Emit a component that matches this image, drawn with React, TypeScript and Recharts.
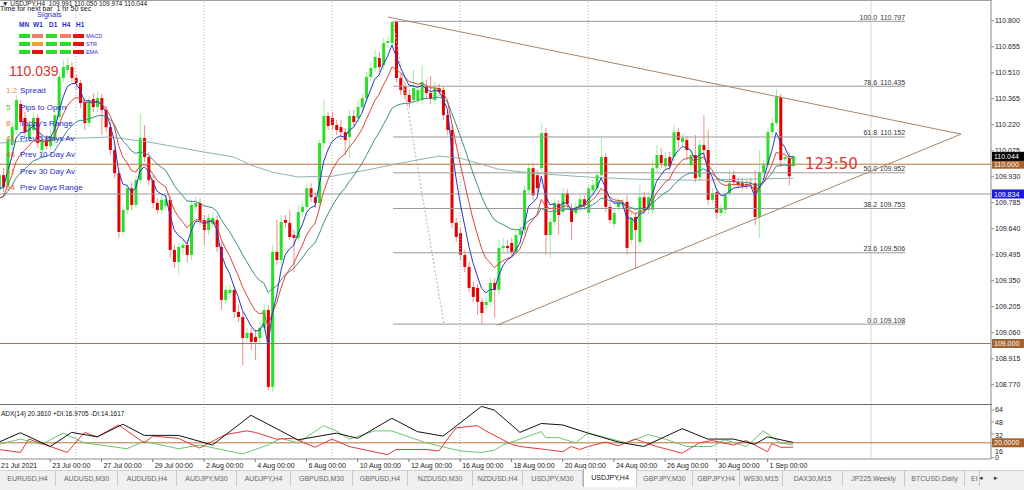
import React from "react"
import { Bar, ComposedChart, Line, ReferenceLine, XAxis, YAxis } from "recharts"

const SANS = "'Liberation Sans', Arial, sans-serif"
const NARROW = "'Liberation Sans Narrow', 'Liberation Sans', Arial, sans-serif"

// USDJPY H4 from 21 Jul 2021 00:00, one row per bar: [open, high, low, close]
const candles: number[][] = [
  [109.855, 109.967, 109.827, 109.939], [109.939, 109.978, 109.844, 109.872], [109.883, 110.157, 109.866, 110.135],
  [110.107, 110.235, 110.079, 110.207], [110.191, 110.386, 110.168, 110.358], [110.336, 110.358, 110.213, 110.235],
  [110.258, 110.291, 110.157, 110.179], [110.146, 110.247, 110.124, 110.219], [110.191, 110.291, 110.168, 110.258],
  [110.258, 110.28, 110.09, 110.118], [110.079, 110.157, 110.051, 110.135], [110.135, 110.163, 110.079, 110.101],
  [110.101, 110.191, 110.079, 110.157], [110.135, 110.302, 110.112, 110.274], [110.263, 110.514, 110.247, 110.487],
  [110.481, 110.581, 110.459, 110.542], [110.526, 110.592, 110.503, 110.553], [110.542, 110.57, 110.459, 110.481],
  [110.481, 110.503, 110.414, 110.453], [110.453, 110.47, 110.313, 110.341], [110.347, 110.369, 110.191, 110.23],
  [110.23, 110.381, 110.207, 110.358], [110.364, 110.397, 110.291, 110.319], [110.319, 110.403, 110.291, 110.369],
  [110.369, 110.392, 110.163, 110.302], [110.302, 110.325, 110.179, 110.207], [110.207, 110.235, 110.051, 110.079],
  [110.079, 110.101, 109.922, 109.95], [109.95, 109.978, 109.589, 109.622], [109.622, 109.773, 109.6, 109.745],
  [109.745, 109.889, 109.723, 109.866], [109.866, 109.9, 109.745, 109.773], [109.773, 109.933, 109.756, 109.911],
  [109.911, 110.286, 109.889, 110.146], [110.146, 110.219, 110.012, 110.04], [110.04, 110.068, 109.883, 109.911],
  [109.911, 109.939, 109.756, 109.784], [109.784, 109.81, 109.723, 109.745], [109.745, 109.827, 109.723, 109.801],
  [109.767, 109.833, 109.745, 109.805], [109.801, 109.822, 109.477, 109.522], [109.522, 109.55, 109.421, 109.455],
  [109.455, 109.561, 109.382, 109.539], [109.533, 109.578, 109.494, 109.55], [109.55, 109.578, 109.455, 109.494],
  [109.494, 109.801, 109.466, 109.773], [109.762, 109.822, 109.734, 109.784], [109.784, 109.81, 109.661, 109.689],
  [109.689, 109.717, 109.55, 109.633], [109.633, 109.723, 109.605, 109.7], [109.667, 109.734, 109.645, 109.7],
  [109.689, 109.711, 109.511, 109.539], [109.539, 109.566, 109.187, 109.243], [109.243, 109.321, 109.221, 109.299],
  [109.282, 109.327, 109.254, 109.299], [109.299, 109.321, 109.143, 109.176], [109.176, 109.215, 109.12, 109.148],
  [109.148, 109.176, 108.88, 109.031], [109.031, 109.087, 109.009, 109.059], [109.059, 109.087, 108.964, 109.009],
  [109.037, 109.076, 108.908, 109.009], [109.031, 109.12, 108.992, 109.087], [109.087, 109.226, 109.064, 109.187],
  [109.187, 109.215, 108.741, 108.758], [108.758, 109.55, 108.73, 109.511], [109.511, 109.689, 109.438, 109.466],
  [109.466, 109.717, 109.438, 109.678], [109.689, 109.717, 109.645, 109.673], [109.673, 109.745, 109.578, 109.594],
  [109.605, 109.633, 109.399, 109.589], [109.589, 109.773, 109.566, 109.734], [109.734, 109.79, 109.711, 109.762],
  [109.762, 109.894, 109.734, 109.866], [109.866, 109.894, 109.79, 109.816], [109.816, 109.844, 109.756, 109.784],
  [109.784, 110.135, 109.762, 110.118], [110.118, 110.358, 110.09, 110.269], [110.269, 110.291, 110.191, 110.213],
  [110.258, 110.291, 110.191, 110.219], [110.219, 110.247, 110.163, 110.191], [110.207, 110.247, 110.135, 110.179],
  [110.179, 110.202, 110.051, 110.135], [110.152, 110.302, 110.034, 110.269], [110.269, 110.302, 110.213, 110.235],
  [110.258, 110.358, 110.235, 110.319], [110.319, 110.392, 110.291, 110.369], [110.369, 110.514, 110.347, 110.487],
  [110.487, 110.57, 110.459, 110.537], [110.537, 110.637, 110.514, 110.598], [110.592, 110.626, 110.514, 110.542],
  [110.553, 110.704, 110.526, 110.676], [110.676, 110.715, 110.648, 110.687], [110.676, 110.797, 110.654, 110.793],
  [110.793, 110.797, 110.459, 110.481], [110.481, 110.503, 110.386, 110.414], [110.431, 110.459, 110.358, 110.386],
  [110.386, 110.414, 110.313, 110.347], [110.358, 110.526, 110.336, 110.425], [110.358, 110.447, 110.336, 110.414],
  [110.358, 110.553, 110.336, 110.459], [110.431, 110.47, 110.369, 110.397], [110.397, 110.492, 110.336, 110.364],
  [110.358, 110.459, 110.336, 110.425], [110.425, 110.447, 110.381, 110.403], [110.414, 110.436, 110.247, 110.274],
  [110.274, 110.302, 110.163, 110.191], [110.191, 110.219, 109.645, 109.673], [109.673, 109.7, 109.566, 109.594],
  [109.617, 109.645, 109.466, 109.494], [109.494, 109.522, 109.399, 109.427], [109.427, 109.455, 109.287, 109.31],
  [109.315, 109.343, 109.232, 109.26], [109.31, 109.332, 109.159, 109.232], [109.232, 109.254, 109.108, 109.17],
  [109.215, 109.265, 109.187, 109.232], [109.232, 109.365, 109.21, 109.338], [109.338, 109.365, 109.143, 109.299],
  [109.299, 109.578, 109.276, 109.533], [109.533, 109.589, 109.511, 109.544], [109.544, 109.578, 109.511, 109.533],
  [109.561, 109.589, 109.489, 109.511], [109.511, 109.633, 109.489, 109.605], [109.605, 109.656, 109.578, 109.633],
  [109.633, 109.883, 109.611, 109.855], [109.855, 110.006, 109.833, 109.978], [109.978, 110.006, 109.801, 109.827],
  [109.939, 109.967, 109.844, 109.866], [109.978, 110.23, 109.956, 110.174], [110.174, 110.202, 109.494, 109.605],
  [109.605, 109.7, 109.477, 109.678], [109.678, 109.81, 109.656, 109.784], [109.779, 109.801, 109.605, 109.717],
  [109.734, 109.866, 109.711, 109.838], [109.838, 109.861, 109.756, 109.779], [109.756, 109.779, 109.578, 109.678],
  [109.728, 109.79, 109.706, 109.762], [109.756, 109.827, 109.734, 109.805], [109.805, 109.827, 109.745, 109.773],
  [109.728, 109.889, 109.7, 109.866], [109.855, 109.911, 109.833, 109.883], [109.866, 109.967, 109.844, 109.939],
  [109.939, 110.146, 109.911, 110.04], [110.04, 110.062, 109.734, 109.762], [109.762, 109.79, 109.667, 109.689],
  [109.667, 109.756, 109.645, 109.728], [109.762, 109.81, 109.739, 109.784], [109.773, 109.81, 109.756, 109.784],
  [109.79, 109.827, 109.494, 109.533], [109.578, 109.734, 109.555, 109.7], [109.706, 109.734, 109.421, 109.633],
  [109.566, 109.883, 109.544, 109.816], [109.816, 109.844, 109.723, 109.745], [109.745, 109.844, 109.723, 109.816],
  [109.745, 110.023, 109.723, 109.978], [109.978, 110.107, 109.956, 110.051], [110.051, 110.09, 109.978, 110.006],
  [109.989, 110.068, 109.967, 110.034], [110.04, 110.068, 109.967, 109.989], [110.04, 110.219, 110.017, 110.179],
  [110.179, 110.202, 110.09, 110.135], [110.124, 110.168, 110.101, 110.146], [110.135, 110.157, 110.023, 110.079],
  [109.995, 110.079, 109.967, 110.051], [110.051, 110.163, 109.9, 109.922], [109.929, 110.135, 109.905, 110.107],
  [110.107, 110.274, 110.051, 110.079], [110.079, 110.191, 109.773, 109.801], [109.801, 109.866, 109.779, 109.838],
  [109.844, 109.866, 109.7, 109.728], [109.728, 109.779, 109.711, 109.756], [109.745, 109.855, 109.723, 109.827],
  [109.838, 109.967, 109.822, 109.894], [109.939, 109.967, 109.877, 109.9], [109.9, 109.922, 109.861, 109.883],
  [109.894, 109.922, 109.855, 109.877], [109.889, 109.911, 109.861, 109.883], [109.894, 109.922, 109.866, 109.889],
  [109.894, 109.967, 109.661, 109.706], [109.706, 110.079, 109.589, 109.956], [109.956, 110.023, 109.933, 109.995],
  [109.995, 110.202, 109.978, 110.179], [110.179, 110.258, 110.157, 110.23], [110.23, 110.42, 110.213, 110.375],
  [110.375, 110.392, 109.989, 110.023], [110.028, 110.068, 110.012, 110.04], [110.034, 110.068, 109.883, 109.933],
  [109.991, 110.05, 109.974, 110.044],
]

const priceTicks = [110.8, 110.655, 110.51, 110.365, 110.22, 110.075, 109.93, 109.785, 109.64, 109.495, 109.35, 109.205, 109.06, 108.915, 108.77]

// moving average starting values at the first visible bar
const emaFastSeed = 109.83
const emaMidSeed = 109.78
const emaSlowSeed = 109.8

// long moving average
const longMaBars = [0, 13, 26, 35, 48, 55, 59, 64, 70, 78, 86, 94, 103, 108, 117, 125, 138, 150, 162, 174, 186]
const longMaValues = [110.118, 110.14, 110.152, 110.124, 110.068, 110.04, 109.995, 109.956, 109.929, 109.933, 109.967, 110.006, 110.045, 110.034, 109.972, 109.95, 109.928, 109.916, 109.911, 109.916, 109.922]

const fibLevels = ["100.0", "78.6", "61.8", "50.0", "38.2", "23.6", "0.0"]
const fibPrices = [110.797, 110.435, 110.152, 109.952, 109.753, 109.506, 109.108]
const fibStartBar = 92.3
const fibEndBar = 212.2

const triangleApex = { x: 225.3, y: 110.168 }
const triangleHigh = { x: 91.1, y: 110.821 }
const triangleLow = { x: 116.6, y: 109.102 }
const fibAnchorTop = { x: 92.3, y: 110.797 }
const fibAnchorBottom = { x: 104.2, y: 109.108 }

const weekBars = [18, 48, 78, 108, 138, 168]
const markerBar = 204.2

const dateBars = [0, 12, 24, 36, 48, 60, 72, 84, 96, 108, 120, 132, 144, 156, 168, 180]
const dateLabels = ["21 Jul 2021", "23 Jul 00:00", "27 Jul 00:00", "29 Jul 00:00", "2 Aug 00:00", "4 Aug 00:00", "6 Aug 00:00", "10 Aug 00:00", "12 Aug 00:00", "16 Aug 00:00", "18 Aug 00:00", "20 Aug 00:00", "24 Aug 00:00", "26 Aug 00:00", "30 Aug 00:00", "1 Sep 00:00"]

// ADX(14) panel
const adxTicks = [0, 16, 32, 48, 64]
const adxBars = [0, 5, 12, 17, 23, 29, 34, 42, 50, 59, 70, 79, 84, 92, 98, 104, 113, 116, 122, 127, 132, 138, 145, 151, 160, 166, 172, 177, 180, 186]
const adxValues = [21, 33.5, 15, 34, 28, 45, 30, 30, 17, 57, 24, 33, 26, 53, 35, 29, 69, 64, 34, 46, 44, 33, 21, 15, 39, 25, 25, 18, 28, 20.4]
const plusDiBars = [0, 5, 10, 15, 20, 30, 34, 42, 47, 57, 63, 66, 70, 76, 79, 82, 88, 92, 100, 108, 113, 116, 118, 123, 127, 128, 131, 135, 138, 142, 147, 152, 156, 161, 167, 170, 175, 179, 183, 186]
const plusDiValues = [18, 25, 18, 33, 20, 12, 22, 12, 17, 5, 17, 26, 20, 43, 36, 25, 36, 36, 20, 9, 7, 10, 17, 27, 35, 27, 27, 20, 33, 27, 20, 31, 25, 15, 15, 24, 15, 36, 20, 17]
const minusDiBars = [0, 5, 7, 16, 20, 23, 28, 34, 36, 42, 47, 53, 58, 60, 65, 69, 74, 78, 82, 91, 93, 100, 103, 107, 112, 114, 120, 122, 128, 132, 134, 136, 138, 142, 145, 149, 154, 160, 164, 167, 172, 175, 180, 181, 183, 186]
const minusDiValues = [11, 7, 25, 7, 34, 28, 44, 20, 29, 26, 13, 31, 36, 34, 25, 26, 14, 25, 15, 4, 11, 11, 9, 40, 43, 36, 18, 15, 11, 8, 15, 11, 15, 21, 16, 25, 15, 6, 20, 23, 17, 23, 8, 19, 14, 14]

const infoNumbers = ["1.2", "5", "8", "41", "46", "51", "54"]
const infoColors = ["#e8922e", "#3ccc3c", "#ee6a40", "#ee6a40", "#e85a34", "#e88a2e", "#e86a34"]
const infoLabels = ["Spread", "Pips to Open", "Today's Range", "Prev 5 Days Av", "Prev 10 Day Av", "Prev 30 Day Av", "Prev Days Range"]

const signalFrames = ["MN", "W1", "D1", "H4", "H1"]
const signalRows = ["MACD", "STR", "EMA"]
const signalColors = [
  ["#2bdc2b", "#f0806a", "#2bdc2b", "#f0806a", "#e41414"],
  ["#2bdc2b", "#f0a028", "#2bdc2b", "#2bdc2b", "#e41414"],
  ["#2bdc2b", "#e41414", "#2bdc2b", "#2bdc2b", "#e41414"],
]

const tabNames = ["EURUSD,H4", "AUDUSD,M30", "AUDUSD,H4", "AUDJPY,M30", "AUDJPY,H4", "GBPUSD,M30", "GBPUSD,H4", "NZDUSD,M30", "NZDUSD,H4", "USDJPY,M30", "USDJPY,H4", "GBPJPY,M30", "GBPJPY,H4", "WS30,M15", "DAX30,M15", "JP225,Weekly", "BTCUSD,Daily", "EI"]
const tabEdges = [0, 56, 118, 177, 237, 291, 353, 408, 473, 523, 583, 637, 693, 740, 783, 843, 905, 965, 980]
const activeTab = "USDJPY,H4"

const X_DOMAIN: [number, number] = [0.234, 232.32]
const Y_DOMAIN: [number, number] = [108.657, 110.916]

function ema(values: number[], period: number, seed: number) {
  const k = 2 / (period + 1)
  let prev = seed
  return values.map((v) => {
    prev = prev + k * (v - prev)
    return prev
  })
}

const closes = candles.map((c) => c[3])
const fast = ema(closes, 5, emaFastSeed)
const mid = ema(closes, 10, emaMidSeed)
const slow = ema(closes, 21, emaSlowSeed)

const rows = candles.map(([o, h, l, c], i) => ({
  i,
  o,
  h,
  l,
  c,
  range: [l, h],
  fast: fast[i],
  mid: mid[i],
  slow: slow[i],
}))

const longMa = longMaBars.map((b, k) => ({ i: b, v: longMaValues[k] }))
const adxRows = adxBars.map((b, k) => ({ i: b, v: adxValues[k] }))
const plusRows = plusDiBars.map((b, k) => ({ i: b, v: plusDiValues[k] }))
const minusRows = minusDiBars.map((b, k) => ({ i: b, v: minusDiValues[k] }))

function Candle(props: any) {
  const { x, y, width, height, payload } = props
  if (x == null || payload == null) return null
  const top = Math.min(y, y + height)
  const bot = Math.max(y, y + height)
  const { o, h, l, c } = payload
  const span = h - l || 1e-6
  const py = (p: number) => top + ((h - p) / span) * (bot - top)
  const up = c >= o
  const col = up ? "#27e027" : "#e30000"
  const cx = x + width / 2
  const bt = py(Math.max(o, c))
  const bb = py(Math.min(o, c))
  return (
    <g>
      <line x1={cx} x2={cx} y1={top} y2={bot} stroke={col} strokeOpacity={0.45} strokeWidth={1} />
      <rect x={x} y={bt} width={width} height={Math.max(1, bb - bt)} fill={col} />
    </g>
  )
}

function PriceTag(props: any) {
  const { viewBox, text, bg } = props
  if (!viewBox) return null
  const x = viewBox.x + viewBox.width + 1
  const y = viewBox.y
  return (
    <g>
      <rect x={x} y={y - 4.5} width={32} height={9} fill={bg} />
      <text x={x + 2} y={y + 2.6} fontSize={7} fill="#fff" fontFamily={NARROW}>
        {text}
      </text>
    </g>
  )
}

function FibLabel(props: any) {
  const { viewBox, level, price } = props
  if (!viewBox) return null
  const xe = viewBox.x + viewBox.width
  const y = viewBox.y - 1.5
  return (
    <g fontSize={7} fill="#333" fontFamily={NARROW}>
      <text x={xe - 28} y={y} textAnchor="end">
        {level}
      </text>
      <text x={xe} y={y} textAnchor="end">
        {price}
      </text>
    </g>
  )
}

function DateTick(props: any) {
  const { x, payload } = props
  const k = dateBars.indexOf(payload.value)
  return (
    <g>
      <line x1={x} x2={x} y1={55} y2={58} stroke="#777" />
      <text x={x + 2} y={63.5} fontSize={7} fill="#222" fontFamily={NARROW}>
        {dateLabels[k]}
      </text>
    </g>
  )
}

// the terminal nudges the lower ADX scale labels so they clear the level tag
function AdxTick(props: any) {
  const { x, y, payload } = props
  const shift: Record<number, number> = { 64: 0, 48: 1, 32: 2, 16: 5.5, 0: 0 }
  return (
    <text x={x} y={y + 2.4 + (shift[payload.value] ?? 0)} fontSize={7} fill="#222" fontFamily={NARROW}>
      {payload.value}
    </text>
  )
}

export default function App() {
  return (
    <div
      style={{
        position: "fixed",
        left: 0,
        top: 0,
        width: 1024,
        height: 490,
        background: "#fff",
        overflow: "hidden",
        fontFamily: SANS,
      }}
    >
      <div style={{ position: "absolute", left: 0, top: 0 }}>
        <ComposedChart width={1024} height={405} data={rows} margin={{ top: 0, right: 0, bottom: 0, left: 0 }}>
          <XAxis dataKey="i" type="number" domain={X_DOMAIN} allowDataOverflow hide />
          <YAxis
            orientation="right"
            type="number"
            width={33}
            domain={Y_DOMAIN}
            allowDataOverflow
            ticks={priceTicks}
            interval={0}
            tickFormatter={(v: number) => v.toFixed(3)}
            tick={{ fontSize: 7, fill: "#222", fontFamily: NARROW }}
            tickSize={3}
            tickMargin={1}
            axisLine={{ stroke: "#8a8a8a" }}
            tickLine={{ stroke: "#8a8a8a" }}
          />
          {weekBars.map((b) => (
            <ReferenceLine key={b} x={b} stroke="#b4b4b4" strokeDasharray="1 2" />
          ))}
          <ReferenceLine x={markerBar} stroke="#d8d8d8" />
          {fibPrices.map((p, k) => (
            <ReferenceLine
              key={p}
              segment={[{ x: fibStartBar, y: p }, { x: fibEndBar, y: p }]}
              stroke="#9a9a9a"
              label={<FibLabel level={fibLevels[k]} price={p.toFixed(3)} />}
            />
          ))}
          <ReferenceLine segment={[fibAnchorTop, fibAnchorBottom]} stroke="#b0b0b0" strokeDasharray="2 2" />
          <ReferenceLine y={109.834} stroke="#9a9a9a" label={<PriceTag text="109.834" bg="#1a1ae6" />} />
          <ReferenceLine y={110} stroke="#b5753f" label={<PriceTag text="110.000" bg="#a5622f" />} />
          <ReferenceLine y={109} stroke="#9a7a62" label={<PriceTag text="109.000" bg="#a5622f" />} />
          <ReferenceLine segment={[triangleHigh, triangleApex]} stroke="#a98466" />
          <ReferenceLine segment={[triangleLow, triangleApex]} stroke="#a98466" />
          <Line data={longMa} dataKey="v" stroke="#8fb3ad" strokeWidth={1} dot={false} isAnimationActive={false} />
          <Bar dataKey="range" barSize={3} isAnimationActive={false} shape={(p: any) => <Candle {...p} />} />
          <Line dataKey="slow" stroke="#3b8c8c" strokeWidth={1} dot={false} isAnimationActive={false} />
          <Line dataKey="mid" stroke="#d8463a" strokeWidth={1} dot={false} isAnimationActive={false} />
          <Line dataKey="fast" stroke="#2a36c8" strokeWidth={1} dot={false} isAnimationActive={false} />
          <ReferenceLine y={110.044} stroke="none" label={<PriceTag text="110.044" bg="#000" />} />
        </ComposedChart>
      </div>

      <div style={{ position: "absolute", left: 0, top: 0, width: 992, height: 1, background: "#a0a0a0" }} />

      <div style={{ position: "absolute", left: 0, top: 404 }}>
        <ComposedChart width={1024} height={66} data={adxRows} margin={{ top: 0, right: 0, bottom: 0, left: 0 }}>
          <XAxis
            dataKey="i"
            type="number"
            domain={X_DOMAIN}
            allowDataOverflow
            ticks={dateBars}
            interval={0}
            height={11}
            tickLine={false}
            tickSize={0}
            tickMargin={0}
            axisLine={{ stroke: "#8a8a8a" }}
            tick={(p: any) => <DateTick {...p} />}
          />
          <YAxis
            orientation="right"
            type="number"
            width={33}
            domain={[-1.8, 72.2]}
            allowDataOverflow
            ticks={adxTicks}
            interval={0}
            tick={(p: any) => <AdxTick {...p} />}
            tickSize={3}
            tickMargin={1}
            axisLine={{ stroke: "#8a8a8a" }}
            tickLine={{ stroke: "#8a8a8a" }}
          />
          {weekBars.map((b) => (
            <ReferenceLine key={b} x={b} stroke="#b4b4b4" strokeDasharray="1 2" />
          ))}
          <ReferenceLine x={markerBar} stroke="#d8d8d8" />
          <ReferenceLine y={20} stroke="#b5753f" label={<PriceTag text="20.0000" bg="#a5622f" />} />
          <Line data={plusRows} dataKey="v" stroke="#6cc76c" strokeWidth={1} dot={false} isAnimationActive={false} />
          <Line data={minusRows} dataKey="v" stroke="#e23a3a" strokeWidth={1} dot={false} isAnimationActive={false} />
          <Line dataKey="v" stroke="#111" strokeWidth={1} dot={false} isAnimationActive={false} />
        </ComposedChart>
      </div>
      <div style={{ position: "absolute", left: 0, top: 404, width: 992, height: 1, background: "#6a6a6a" }} />
      <div style={{ position: "absolute", left: 1, top: 410, fontSize: 6.5, fontFamily: NARROW, color: "#111", whiteSpace: "pre" }}>
        ADX(14) 20.3610 +DI:16.9705 -DI:14.1617
      </div>

      {/* chart overlays */}
      <div style={{ position: "absolute", left: 2, top: 0, fontSize: 6.5, fontFamily: NARROW, color: "#111", whiteSpace: "pre", lineHeight: "7px" }}>
        ▼ USDJPY,H4  109.991 110.050 109.974 110.044
      </div>
      <div style={{ position: "absolute", left: 0, top: 5, fontSize: 7, fontFamily: NARROW, color: "#111", whiteSpace: "pre", lineHeight: "8px" }}>
        Time for next bar  1 hr 50 sec
      </div>
      <div style={{ position: "absolute", left: 37, top: 11, fontSize: 7.5, fontFamily: SANS, color: "#2a2ac8", lineHeight: "8px" }}>
        Signals
      </div>
      {signalFrames.map((f, k) => (
        <div
          key={f}
          style={{ position: "absolute", left: [19, 33, 49, 62, 76][k], top: 21, fontSize: 6.5, fontWeight: 700, color: "#2a2ac8", lineHeight: "7px" }}
        >
          {f}
        </div>
      ))}
      {signalRows.map((r, row) => (
        <React.Fragment key={r}>
          {signalColors[row].map((col, k) => (
            <div
              key={k}
              style={{ position: "absolute", left: [19, 32, 46, 60, 73][k], top: 34 + row * 8, width: 11, height: 4, background: col }}
            />
          ))}
          <div style={{ position: "absolute", left: 86, top: 32.5 + row * 8, fontSize: 5.5, color: "#2a2ac8", lineHeight: "6px" }}>{r}</div>
        </React.Fragment>
      ))}
      <div style={{ position: "absolute", left: 9, top: 63, fontSize: 14, color: "#e03232", lineHeight: "16px" }}>110.039</div>
      {infoLabels.map((lab, k) => (
        <React.Fragment key={lab}>
          <div style={{ position: "absolute", left: 6, top: [86, 103, 119, 134, 150, 167, 183][k], fontSize: 8, color: infoColors[k], lineHeight: "10px" }}>
            {infoNumbers[k]}
          </div>
          <div style={{ position: "absolute", left: 20, top: [86, 103, 119, 134, 150, 167, 183][k], fontSize: 8, color: "#2a2ac8", lineHeight: "10px" }}>
            {lab}
          </div>
        </React.Fragment>
      ))}
      <div style={{ position: "absolute", left: 805, top: 155, fontSize: 15, color: "#d83a3a", fontFamily: "'DejaVu Sans', sans-serif", lineHeight: "18px" }}>
        123:50
      </div>

      {/* symbol tabs */}
      <div style={{ position: "absolute", left: 0, top: 470, width: 1024, height: 20, background: "#f0f0f0", borderTop: "1px solid #d0d0d0" }} />
      {tabNames.map((t, k) => {
        const active = t === activeTab
        return (
          <div
            key={t}
            style={{
              position: "absolute",
              left: tabEdges[k],
              top: active ? 469 : 471,
              width: tabEdges[k + 1] - tabEdges[k],
              height: active ? 18 : 15,
              background: active ? "#fff" : "transparent",
              borderRight: "1px solid #c8c8c8",
              borderLeft: active ? "1px solid #b0b0b0" : "none",
              boxSizing: "border-box",
              fontSize: 7,
              fontFamily: NARROW,
              color: active ? "#111" : "#666",
              textAlign: k === tabNames.length - 1 ? "left" : "center",
              paddingLeft: k === tabNames.length - 1 ? 6 : 0,
              lineHeight: active ? "18px" : "15px",
              overflow: "hidden",
              whiteSpace: "nowrap",
            }}
          >
            {t}
          </div>
        )
      })}
      <div style={{ position: "absolute", left: 979, top: 472, fontSize: 7, color: "#333", lineHeight: "12px" }}>◂</div>
      <div style={{ position: "absolute", left: 994, top: 472, fontSize: 7, color: "#333", lineHeight: "12px" }}>▸</div>
    </div>
  )
}
